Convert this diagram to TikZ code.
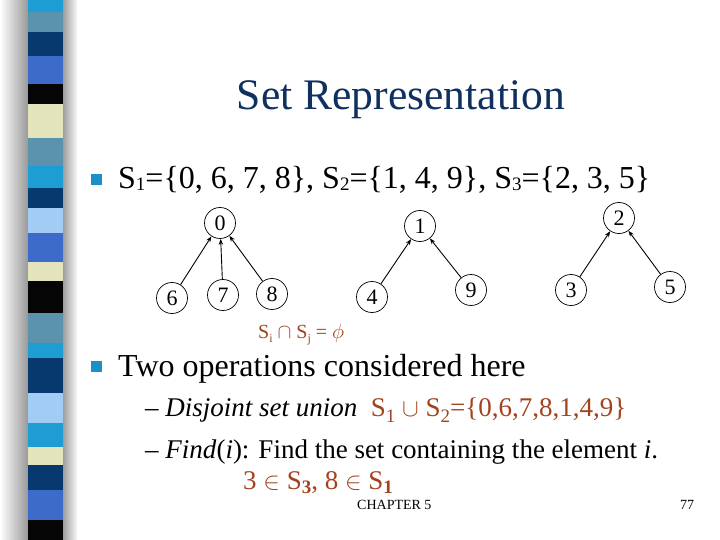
\documentclass[tikz,border=0pt]{standalone}
\usepackage{fontspec}
\setmainfont{Liberation Serif}
\usetikzlibrary{arrows.meta}
\definecolor{titleblue}{HTML}{10305F}
\definecolor{formred}{HTML}{A3421E}
\definecolor{bulletc}{HTML}{1A8FC8}
\definecolor{scyan}{HTML}{1E9CD4}
\definecolor{ssteel}{HTML}{5B93AD}
\definecolor{snavy}{HTML}{07396E}
\definecolor{sroyal}{HTML}{3D6BC9}
\definecolor{sblack}{HTML}{050505}
\definecolor{scream}{HTML}{E3E3BC}
\definecolor{slight}{HTML}{A3CCF5}
\newcommand\mysubd[2][-1.5pt]{\raisebox{#1}{\fontsize{19}{19}\selectfont #2}}
\begin{document}
\begin{tikzpicture}[x=1pt,y=-1pt,
  nd/.style={circle, draw, line width=0.7pt, minimum size=31pt, inner sep=0pt, font=\fontsize{22}{22}\selectfont},
  arr/.style={-{Stealth[length=6pt,width=4.5pt]}, line width=0.9pt},
  txt/.style={anchor=base west, inner sep=0pt}]
\useasboundingbox (0,0) rectangle (720,540);
\shade[left color=white, right color=black!40] (0,0) rectangle (28,540);
\shade[left color=black!38, right color=white] (63,0) rectangle (78,540);
\foreach \a/\b/\c in {0/12/scyan,12/32/ssteel,32/56/snavy,56/84/sroyal,84/104/sblack,104/138/scream,
  138/166/ssteel,166/188/scyan,188/208/snavy,208/233/slight,233/262/sroyal,262/281/scream,
  281/313/sblack,313/343/ssteel,343/358/scyan,358/393/snavy,393/423/slight,423/447/scyan,
  447/465/scream,465/490/snavy,490/520/sroyal,520/540/sblack}
  \fill[\c] (28,\a) rectangle (63,\b);

\node[anchor=base, inner sep=0pt, font=\fontsize{43.6}{50}\selectfont, text=titleblue] (title) at (401,110) {Set Representation};

\fill[bulletc] (91,174) rectangle (102,185);
\node[txt, font=\fontsize{32}{38}\selectfont] (l1) at (118,189)
  {S\mysubd{1}=\{0, 6, 7, 8\}, S\mysubd{2}=\{1, 4, 9\}, S\mysubd{3}=\{2, 3, 5\}};

\node[nd] (n0) at (220,223) {0};
\node[nd] (n6) at (172,298) {6};
\node[nd] (n7) at (223,295) {7};
\node[nd] (n8) at (272,294) {8};
\node[nd] (n1) at (420,226) {1};
\node[nd] (n4) at (372,297) {4};
\node[nd] (n9) at (471,290) {9};
\node[nd] (n2) at (619,218) {2};
\node[nd] (n3) at (571,290) {3};
\node[nd] (n5) at (670,287) {5};
\draw[arr] (n6) -- (n0);
\draw[arr] (n7) -- (n0);
\draw[arr] (n8) -- (n0);
\draw[arr] (n4) -- (n1);
\draw[arr] (n9) -- (n1);
\draw[arr] (n3) -- (n2);
\draw[arr] (n5) -- (n2);

\node[txt, font=\fontsize{20}{24}\selectfont, text=formred] (inter) at (258,338)
  {S\raisebox{-4pt}{\fontsize{12}{12}\selectfont i} $\cap$ S\raisebox{-4pt}{\fontsize{12}{12}\selectfont j} = $\phi$};

\fill[bulletc] (91,361) rectangle (102,372);
\node[txt, font=\fontsize{32}{38}\selectfont] (l2) at (118,376) {Two operations considered here};

\node[txt, font=\fontsize{27}{32}\selectfont] (l3) at (145,416)
  {– \textit{Disjoint set union}\ \ {\color{formred}S\mysubd[-6pt]{1} $\cup$ S\mysubd[-6pt]{2}=\{0,6,7,8,1,4,9\}}};
\node[txt, font=\fontsize{27}{32}\selectfont] (l4) at (145,458)
  {– \textit{Find}(\textit{i}): Find the set containing the element \textit{i}.};
\node[txt, font=\fontsize{27}{32}\selectfont, text=formred] (l5) at (243,489)
  {3 $\in$ S\raisebox{-4pt}{\fontsize{19}{19}\selectfont\bfseries 3}, 8 $\in$ S\raisebox{-4pt}{\fontsize{19}{19}\selectfont\bfseries 1}};

\node[txt, font=\fontsize{14}{16}\selectfont] (chap) at (357,509) {CHAPTER 5};
\node[txt, font=\fontsize{14}{16}\selectfont] (pg) at (680,509) {77};
\end{tikzpicture}
\end{document}
